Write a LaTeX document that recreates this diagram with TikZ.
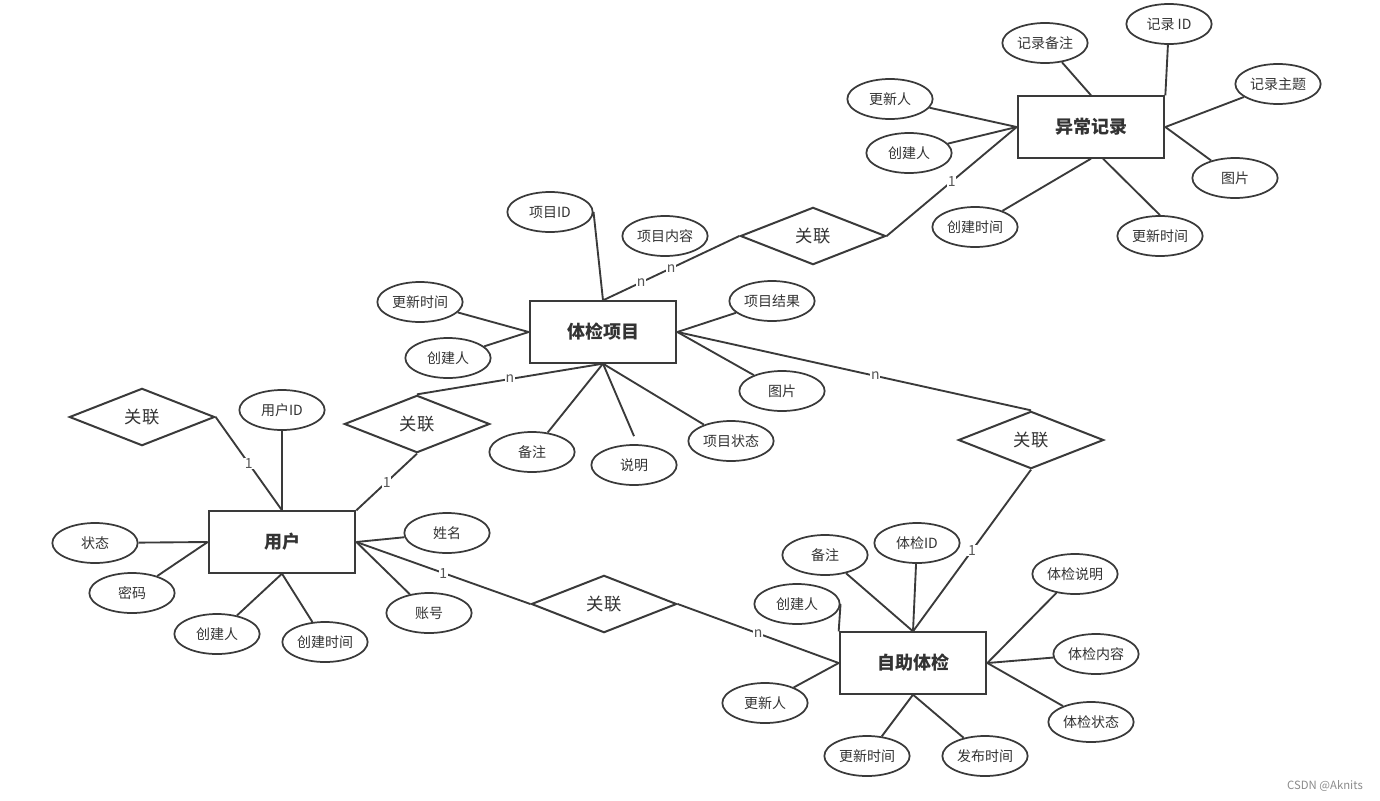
\documentclass[tikz,border=0pt]{standalone}
\usepackage{fontspec}
\usepackage{tikz}
\usetikzlibrary{shapes.geometric}
\newfontfamily\cjk{Noto Sans CJK SC}
\definecolor{linegray}{HTML}{3A3A3A}
\definecolor{textgray}{HTML}{333333}
\definecolor{labelgray}{HTML}{555555}
\definecolor{markgray}{HTML}{8A8A8A}

\begin{document}
\begin{tikzpicture}[
  x=0.75pt, y=-0.75pt,
  entbox/.style={rectangle, draw=linegray, line width=1.5pt, fill=white, minimum width=110pt, minimum height=46pt, font=\cjk\fontsize{13.5}{16}\selectfont\bfseries, text=textgray},
  attr/.style={ellipse, draw=linegray, line width=1.3pt, fill=white, minimum width=64pt, minimum height=30pt, inner sep=0pt, font=\cjk\fontsize{10.5}{12}\selectfont, text=textgray},
  relbox/.style={diamond, draw=linegray, line width=1.5pt, fill=white, minimum width=109pt, minimum height=43pt, inner sep=0pt, font=\cjk\fontsize{13}{15}\selectfont, text=textgray},
  link/.style={draw=linegray, line width=1.4pt},
  cardlabel/.style={font=\cjk\fontsize{10.5}{12}\selectfont, text=labelgray, fill=white, inner sep=0.6pt}
]
  \useasboundingbox (0,0) rectangle (1380,800);

  % Entities
  \node[entbox] (rec) at (1091,127) {异常记录};
  \node[entbox] (item) at (603,332) {体检项目};
  \node[entbox] (user) at (282,542) {用户};
  \node[entbox] (check) at (913,663) {自助体检};

  % Relationships
  \node[relbox] (rel-itemrec) at (813,236) {关联};
  \node[relbox] (rel-useritem) at (417,424) {关联};
  \node[relbox] (rel-user) at (142,417) {关联};
  \node[relbox] (rel-usercheck) at (604,604) {关联};
  \node[relbox] (rel-itemcheck) at (1031,440) {关联};

  % Attributes of 异常记录
  \node[attr] (rec-note) at (1045,43) {记录备注};
  \node[attr] (rec-id) at (1169,24) {记录 ID};
  \node[attr] (rec-title) at (1278,84) {记录主题};
  \node[attr] (rec-upd) at (890,99) {更新人};
  \node[attr] (rec-crt) at (909,153) {创建人};
  \node[attr] (rec-pic) at (1235,178) {图片};
  \node[attr] (rec-ctime) at (975,227) {创建时间};
  \node[attr] (rec-utime) at (1160,236) {更新时间};

  % Attributes of 体检项目
  \node[attr] (item-id) at (550,212) {项目ID};
  \node[attr] (item-text) at (665,236) {项目内容};
  \node[attr] (item-utime) at (420,302) {更新时间};
  \node[attr] (item-crt) at (448,358) {创建人};
  \node[attr] (item-result) at (772,301) {项目结果};
  \node[attr] (item-pic) at (782,391) {图片};
  \node[attr] (item-state) at (731,441) {项目状态};
  \node[attr] (item-desc) at (634,465) {说明};
  \node[attr] (item-note) at (532,452) {备注};

  % Attributes of 用户
  \node[attr] (user-id) at (282,410) {用户ID};
  \node[attr] (user-state) at (95,543) {状态};
  \node[attr] (user-pwd) at (132,593) {密码};
  \node[attr] (user-crt) at (217,634) {创建人};
  \node[attr] (user-ctime) at (325,642) {创建时间};
  \node[attr] (user-name) at (447,533) {姓名};
  \node[attr] (user-acct) at (429,613) {账号};

  % Attributes of 自助体检
  \node[attr] (check-note) at (825,555) {备注};
  \node[attr] (check-id) at (917,543) {体检ID};
  \node[attr] (check-crt) at (797,604) {创建人};
  \node[attr] (check-upd) at (765,703) {更新人};
  \node[attr] (check-desc) at (1075,574) {体检说明};
  \node[attr] (check-text) at (1096,654) {体检内容};
  \node[attr] (check-state) at (1091,722) {体检状态};
  \node[attr] (check-utime) at (867,756) {更新时间};
  \node[attr] (check-ptime) at (985,756) {发布时间};

  % Attribute links
  \draw[link] (rec-note) -- (rec.north);
  \draw[link] (rec-id) -- (rec.north east);
  \draw[link] (rec-title) -- (rec.east);
  \draw[link] (rec-pic) -- (rec.east);
  \draw[link] (rec-utime.north) -- ([xshift=9pt]rec.south);
  \draw[link] (rec-ctime) -- (rec.south);
  \draw[link] (rec-upd) -- (rec.west);
  \draw[link] (rec-crt) -- (rec.west);

  \draw[link] (item-id.east) -- (item.north);
  \draw[link] (item-utime) -- (item.west);
  \draw[link] (item-crt) -- (item.west);
  \draw[link] (item-result) -- (item.east);
  \draw[link] (item-pic) -- (item.east);
  \draw[link] (item-state) -- (item.south);
  \draw[link] ([yshift=6pt]item-desc.north) -- (item.south);
  \draw[link] (item-note) -- (item.south);

  \draw[link] (user-id) -- (user.north);
  \draw[link] (user-state) -- (user.west);
  \draw[link] (user-pwd) -- (user.west);
  \draw[link] (user-crt) -- (user.south);
  \draw[link] (user-ctime) -- (user.south);
  \draw[link] (user-name) -- (user.east);
  \draw[link] (user-acct) -- (user.east);

  \draw[link] (check-note) -- (check.north);
  \draw[link] (check-id) -- (check.north);
  \draw[link] (check-crt.east) -- (check.north west);
  \draw[link] (check-upd) -- (check.west);
  \draw[link] (check-desc) -- (check.east);
  \draw[link] (check-text) -- (check.east);
  \draw[link] (check-state) -- (check.east);
  \draw[link] (check-utime) -- (check.south);
  \draw[link] (check-ptime) -- (check.south);

  % Relationship links with cardinalities
  \draw[link] (rel-itemrec.east) -- node[cardlabel] {1} (rec.west);
  \draw[link] (rel-itemrec.west) -- node[cardlabel] {n} node[cardlabel, pos=0.72] {n} (item.north);
  \draw[link] (item.south) -- node[cardlabel] {n} (rel-useritem.north);
  \draw[link] (rel-useritem.south) -- node[cardlabel] {1} (user.north east);
  \draw[link] (rel-user.east) -- node[cardlabel] {1} (user.north);
  \draw[link] (user.east) -- node[cardlabel] {1} (rel-usercheck.west);
  \draw[link] (rel-usercheck.east) -- node[cardlabel] {n} (check.west);
  \draw[link] (item.east) -- node[cardlabel, pos=0.56] {n} (rel-itemcheck.north);
  \draw[link] (rel-itemcheck.south) -- node[cardlabel] {1} (check.north);

  % Watermark
  \node[font=\cjk\fontsize{8.5}{10}\selectfont, text=markgray] (mark) at (1325,786) {CSDN @Aknits};
\end{tikzpicture}
\end{document}
